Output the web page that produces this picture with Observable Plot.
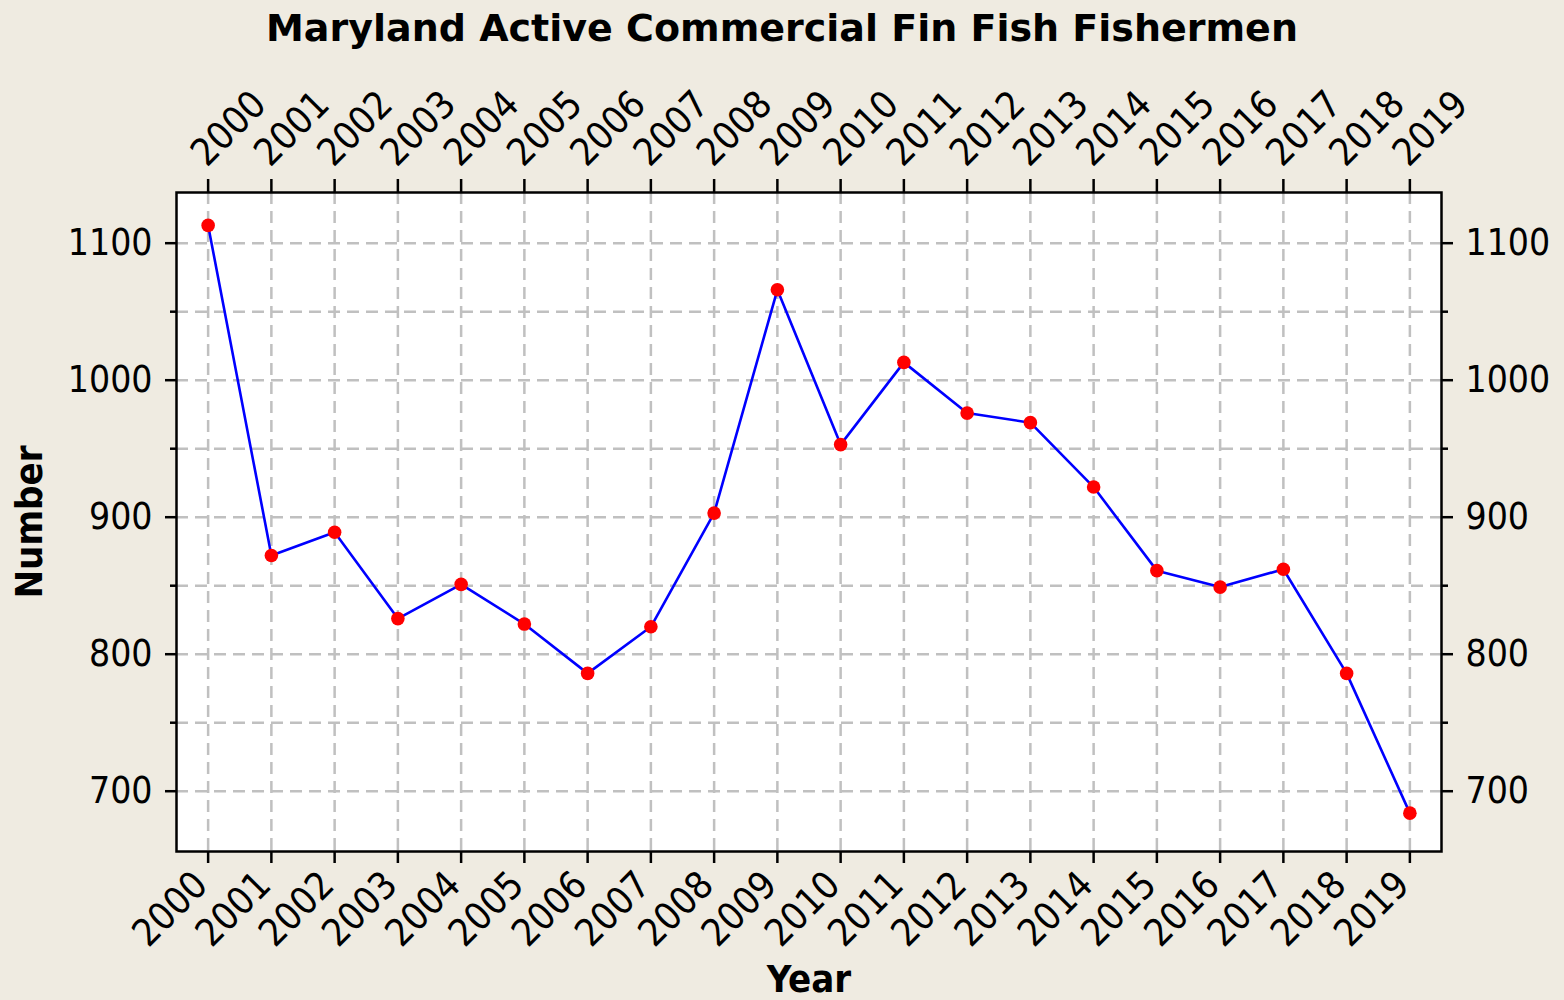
<!DOCTYPE html>
<html>
<head>
<meta charset="utf-8">
<script src="https://cdn.jsdelivr.net/npm/d3@7"></script>
<script src="https://cdn.jsdelivr.net/npm/@observablehq/plot@0.6"></script>
<style>
  html, body { margin: 0; padding: 0; background: #efebe1; }
  body { width: 1564px; height: 1000px; overflow: hidden; font-family: "DejaVu Sans Condensed", "DejaVu Sans", sans-serif; }
  #title { height: 56px; line-height: 56px; text-align: center; font-family: "DejaVu Sans", sans-serif; font-weight: bold; font-size: 38px; color: #000; white-space: nowrap; }
  #chart svg { display: block; }
</style>
</head>
<body>
<div id="title">Maryland Active Commercial Fin Fish Fishermen</div>
<div id="chart"></div>
<script>
const years = [2000, 2001, 2002, 2003, 2004, 2005, 2006, 2007, 2008, 2009,
               2010, 2011, 2012, 2013, 2014, 2015, 2016, 2017, 2018, 2019];
const fishermen = [1113, 872, 889, 826, 851, 822, 786, 820, 903, 1066,
                   953, 1013, 976, 969, 922, 861, 849, 862, 786, 684];
const yMajorTicks = [700, 800, 900, 1000, 1100];
const yMinorTicks = [750, 850, 950, 1050];
const yGridLines = [700, 750, 800, 850, 900, 950, 1000, 1050, 1100];
const xLabel = "Year";
const yLabel = "Number";

const data = years.map((year, i) => ({year, count: fishermen[i]}));
const intFmt = d3.format("d");

const gridStyle = {stroke: "#c0c0c0", strokeOpacity: 1, strokeWidth: 2.5, strokeDasharray: "12,7"};
const FONT = "'DejaVu Sans Condensed', 'DejaVu Sans', sans-serif";

const chart = Plot.plot({
  width: 1564,
  height: 944,
  marginTop: 136,
  marginBottom: 149,
  marginLeft: 176,
  marginRight: 123,
  style: {background: "transparent", fontFamily: FONT, fontSize: "37px", color: "#000", overflow: "visible"},
  x: {type: "linear", domain: [1999.5, 2019.5]},
  y: {domain: [656, 1137]},
  marks: [
    Plot.frame({fill: "white", stroke: null}),
    Plot.gridX(years, gridStyle),
    Plot.gridY(yGridLines, gridStyle),
    // x ticks (bottom and top)
    Plot.axisX(years, {anchor: "bottom", tickSize: 12, tickFormat: () => "", label: null, strokeWidth: 2.5}),
    Plot.axisX(years, {anchor: "top", tickSize: 14, tickFormat: () => "", label: null, strokeWidth: 2.5}),
    // rotated x tick labels
    Plot.text(years, {x: d => d, text: d => intFmt(d), frameAnchor: "bottom", textAnchor: "end", lineAnchor: "middle", rotate: -45, dx: -7, dy: 27, fontSize: 38}),
    Plot.text(years, {x: d => d, text: d => intFmt(d), frameAnchor: "top", textAnchor: "start", lineAnchor: "middle", rotate: -45, dx: -10, dy: -33, fontSize: 38}),
    // y axes left and right
    Plot.axisY(yMajorTicks, {anchor: "left", tickSize: 11, tickPadding: 13, tickFormat: intFmt, label: null, strokeWidth: 2.5}),
    Plot.axisY(yMinorTicks, {anchor: "left", tickSize: 6, tickFormat: () => "", label: null, strokeWidth: 2.5}),
    Plot.axisY(yMajorTicks, {anchor: "right", tickSize: 11, tickPadding: 13, tickFormat: intFmt, label: null, strokeWidth: 2.5}),
    Plot.axisY(yMinorTicks, {anchor: "right", tickSize: 6, tickFormat: () => "", label: null, strokeWidth: 2.5}),
    Plot.frame({stroke: "#000", strokeWidth: 2.5}),
    Plot.line(data, {x: "year", y: "count", stroke: "#0000ff", strokeWidth: 2.6}),
    Plot.dot(data, {x: "year", y: "count", r: 6.8, fill: "#ff0000", stroke: null}),
    Plot.text([xLabel], {frameAnchor: "bottom", textAnchor: "middle", lineAnchor: "middle", dy: 128, fontWeight: "bold", fontSize: 38}),
    Plot.text([yLabel], {frameAnchor: "left", textAnchor: "middle", lineAnchor: "middle", dx: -147, rotate: -90, fontWeight: "bold", fontSize: 38, letterSpacing: "-4.5px"})
  ]
});
document.getElementById("chart").appendChild(chart);
</script>
</body>
</html>
